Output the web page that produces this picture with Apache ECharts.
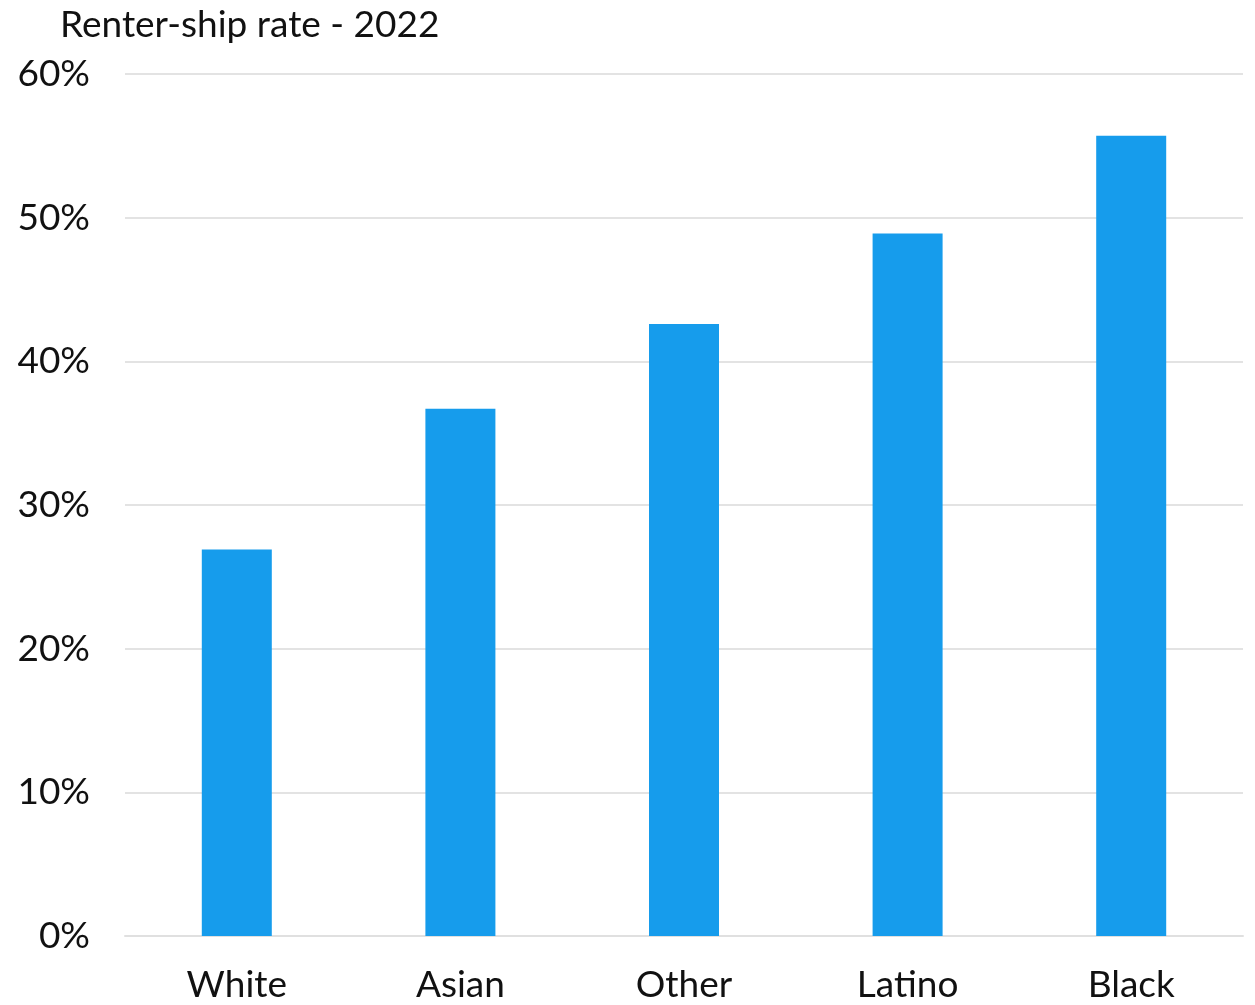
<!DOCTYPE html>
<html>
<head>
<meta charset="utf-8">
<script src="https://cdn.jsdelivr.net/npm/echarts@6/dist/echarts.min.js"></script>
<style>
  html, body { margin: 0; padding: 0; background: #fff; }
  #chart { width: 1255px; height: 1005px; }
</style>
</head>
<body>
<div id="chart"></div>
<script>
// Renter-ship rate by group, 2022 (percent)
const categories = ['White', 'Asian', 'Other', 'Latino', 'Black'];
const renterRate = [26.9, 36.7, 42.6, 48.9, 55.7];
const titleText = 'Renter-ship rate - 2022';

const chart = echarts.init(document.getElementById('chart'), null, { renderer: 'canvas' });
chart.setOption({
  animation: false,
  backgroundColor: '#ffffff',
  textStyle: { fontFamily: 'Lato' },
  title: {
    text: titleText,
    left: 55,
    top: 2,
    textStyle: { fontFamily: 'Lato', fontSize: 37, fontWeight: 'normal', color: '#111' }
  },
  grid: { left: 125, right: 12, top: 74, bottom: 69, containLabel: false },
  xAxis: {
    type: 'category',
    data: categories,
    axisLine: { show: true, lineStyle: { color: '#e0e0e0', width: 2 } },
    axisTick: { show: false },
    axisLabel: { fontFamily: 'Lato', fontSize: 37, color: '#111', margin: 31 }
  },
  yAxis: {
    type: 'value',
    min: 0,
    max: 60,
    interval: 10,
    axisLine: { show: false },
    axisTick: { show: false },
    splitLine: { lineStyle: { color: '#e3e3e3', width: 2 } },
    axisLabel: {
      fontFamily: 'Lato', fontSize: 37, color: '#111', margin: 35,
      formatter: v => v + '%'
    }
  },
  series: [{
    type: 'bar',
    data: renterRate,
    barWidth: 70,
    itemStyle: { color: '#169cec' }
  }]
});
</script>
</body>
</html>
